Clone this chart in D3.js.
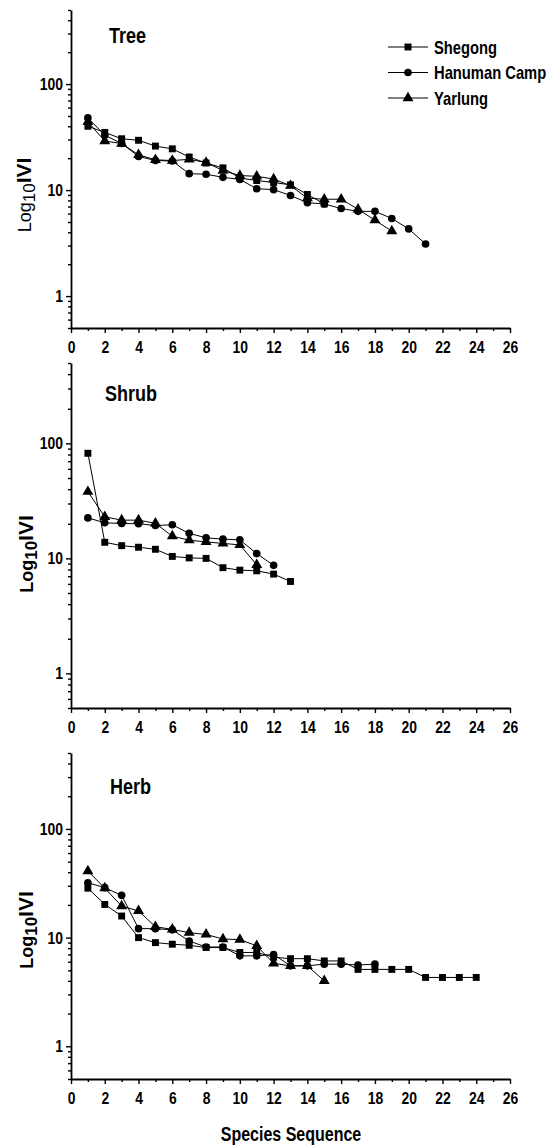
<!DOCTYPE html>
<html>
<head>
<meta charset="utf-8">
<script src="https://cdn.jsdelivr.net/npm/d3@7"></script>
<style>
  body { margin: 0; background: #fff; }
  text { font-family: "Liberation Sans", Arial, sans-serif; font-weight: bold; fill: #000; }
  .axis path, .axis line { stroke: #000; }
  .axis text { font-family: "Liberation Sans", Arial, sans-serif; font-weight: bold; font-size: 17px; }
</style>
</head>
<body>
<div id="chart"></div>
<script>
// sites
const sites = ["Shegong", "Hanuman Camp", "Yarlung"];

// IVI values by species rank (rank = index + 1)
const treeShegong = [40, 35, 30.5, 29.5, 26, 24.5, 20.5, 18, 16.2, 13, 12.3, 11.8, 11.2, 9.1, 7.4];
const treeHanuman = [48, 33, 27.5, 20.8, 19, 18.8, 14.3, 14.1, 13.2, 12.6, 10.3, 10.1, 8.9, 7.6, 7.4, 6.7, 6.3, 6.3, 5.4, 4.3, 3.1];
const treeYarlung = [44, 29, 27.5, 21.5, 19.3, 19, 19.5, 18.2, 15.3, 13.7, 13.5, 12.7, 11, 8.4, 8.2, 8.2, 6.6, 5.2, 4.1];

const shrubShegong = [82, 13.8, 12.9, 12.5, 12, 10.4, 10.1, 10, 8.3, 7.9, 7.8, 7.3, 6.3];
const shrubHanuman = [22.5, 20.4, 20.1, 20, 19.3, 19.6, 16.5, 15.1, 14.7, 14.5, 11, 8.7];
const shrubYarlung = [38, 23, 21.5, 21.5, 20.2, 15.6, 14.4, 13.9, 13.5, 13.1, 8.8];

const herbShegong = [28.5, 20.2, 15.8, 10, 9, 8.7, 8.5, 8.1, 8.1, 7.3, 7.3, 6.6, 6.4, 6.4, 6.1, 6.1, 5.1, 5.1, 5.1, 5.1, 4.3, 4.3, 4.3, 4.3];
const herbHanuman = [32, 28.8, 24.5, 12.1, 12.1, 11.8, 9.3, 8.2, 8.2, 6.8, 6.8, 7, 5.5, 5.5, 5.7, 5.7, 5.6, 5.7];
const herbYarlung = [41, 28.5, 19.5, 17.6, 12.6, 11.9, 11.1, 10.7, 9.7, 9.6, 8.4, 5.8, 5.5, 5.5, 4];

const xTicks = d3.range(0, 27, 2);
const xMinor = d3.range(1, 26, 2);
const yTicks = [1, 10, 100];
const yMinor = [0.5, 0.6, 0.7, 0.8, 0.9, 2, 3, 4, 5, 6, 7, 8, 9, 20, 30, 40, 50, 60, 70, 80, 90, 200, 300, 400, 500];

const panels = [
  { name: "Tree",  series: [treeShegong, treeHanuman, treeYarlung],    top: 10,  bottom: 328,  boldLabel: false, lx: 31, ly: 195, tx: 109, ty: 43 },
  { name: "Shrub", series: [shrubShegong, shrubHanuman, shrubYarlung], top: 363, bottom: 708,  boldLabel: true,  lx: 33, ly: 554, tx: 105, ty: 401 },
  { name: "Herb",  series: [herbShegong, herbHanuman, herbYarlung],    top: 753, bottom: 1079, boldLabel: true,  lx: 33, ly: 930, tx: 110, ty: 794 }
];

const W = 550, H = 1145;
const left = 71, right = 510;
const squeeze = 0.82; // narrow bold look

const symbols = [d3.symbolSquare, d3.symbolCircle, d3.symbolTriangle];
const symSizes = [48, 46, 52];

const svg = d3.select("#chart").append("svg")
  .attr("width", W)
  .attr("height", H);

const x = d3.scaleLinear().domain([0, 26]).range([left, right]);

// condensed text at a point
function narrowText(parent, tx, ty, size, str) {
  return parent.append("text")
    .attr("transform", `translate(${tx},${ty}) scale(${squeeze},1)`)
    .attr("font-size", size)
    .text(str);
}

panels.forEach((p, pi) => {
  const y = d3.scaleLog().domain([0.5, 500]).range([p.bottom, p.top]);
  const g = svg.append("g");

  // minor ticks
  g.append("g").attr("class", "axis")
    .attr("transform", `translate(0,${p.bottom})`)
    .call(d3.axisBottom(x).tickValues(xMinor).tickSize(3).tickFormat(""))
    .call(a => a.select(".domain").remove());
  g.append("g").attr("class", "axis")
    .attr("transform", `translate(${left},0)`)
    .call(d3.axisLeft(y).tickValues(yMinor).tickSize(3).tickFormat(""))
    .call(a => a.select(".domain").remove());

  // main axes
  const xa = g.append("g").attr("class", "axis")
    .attr("transform", `translate(0,${p.bottom})`)
    .call(d3.axisBottom(x).tickValues(xTicks).tickSize(5).tickSizeOuter(0).tickPadding(8).tickFormat(d3.format("d")));
  xa.selectAll(".tick text").attr("transform", `scale(${squeeze},1)`);

  const ya = g.append("g").attr("class", "axis")
    .attr("transform", `translate(${left},0)`)
    .call(d3.axisLeft(y).tickValues(yTicks).tickSize(5).tickSizeOuter(0).tickPadding(3).tickFormat(d3.format("d")));
  ya.selectAll(".tick text").each(function () {
    const t = d3.select(this);
    const tx = +t.attr("x") || 0;
    t.attr("x", 0).attr("transform", `translate(${tx},0) scale(${squeeze},1)`);
  });

  g.selectAll(".axis path.domain").attr("stroke-width", 1.8);
  g.selectAll(".axis line").attr("stroke-width", 1.4);

  // panel title
  narrowText(g, p.tx, p.ty, 22, p.name);

  // y label
  const lab = g.append("text")
    .attr("transform", `translate(${p.lx},${p.ly}) rotate(-90)`)
    .attr("text-anchor", "middle")
    .style("font-weight", p.boldLabel ? "bold" : "normal")
    .attr("font-size", 18);
  lab.append("tspan").text("Log");
  lab.append("tspan").attr("font-size", 17).attr("dy", 4).text("10");
  lab.append("tspan").attr("dy", -4).attr("font-size", 21).style("font-weight", "bold").text("IVI");

  // series
  const line = d3.line()
    .x((d, i) => x(i + 1))
    .y(d => y(d));

  p.series.forEach(s => {
    g.append("path")
      .datum(s)
      .attr("fill", "none")
      .attr("stroke", "#000")
      .attr("stroke-width", 1)
      .attr("d", line);
  });
  p.series.forEach((s, si) => {
    g.selectAll(null)
      .data(s)
      .join("path")
      .attr("transform", (d, i) => `translate(${x(i + 1)},${y(d)})`)
      .attr("d", d3.symbol(symbols[si], symSizes[si]))
      .attr("fill", "#000");
  });

  // legend only in first panel
  if (pi === 0) {
    const lg = g.append("g");
    sites.forEach((name, si) => {
      const ry = 47 + si * 25.5;
      lg.append("line")
        .attr("x1", 388).attr("x2", 428)
        .attr("y1", ry).attr("y2", ry)
        .attr("stroke", "#000").attr("stroke-width", 1);
      lg.append("path")
        .attr("transform", `translate(408,${ry})`)
        .attr("d", d3.symbol(symbols[si], symSizes[si]))
        .attr("fill", "#000");
      narrowText(lg, 434, ry + 6.5, 18, name);
    });
  }
});

// shared x label
svg.append("text")
  .attr("transform", `translate(291,1141) scale(0.8,1)`)
  .attr("text-anchor", "middle")
  .attr("font-size", 20)
  .text("Species Sequence");
</script>
</body>
</html>
